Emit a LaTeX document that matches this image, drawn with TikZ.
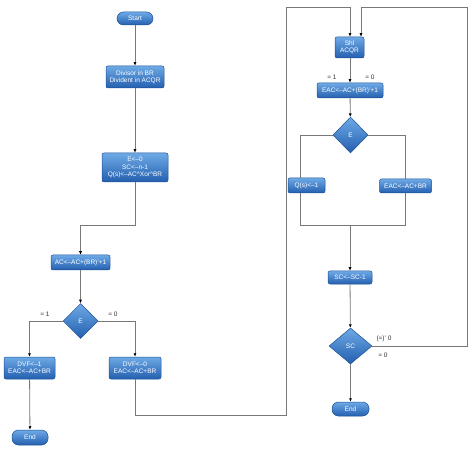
\documentclass[tikz,border=0pt]{standalone}
\usepackage{fontspec}
\setmainfont{Liberation Sans}
\usetikzlibrary{shapes.geometric,arrows.meta}
\definecolor{boxtop}{RGB}{110,170,230}
\definecolor{boxbot}{RGB}{35,95,175}
\definecolor{boxedge}{RGB}{30,80,150}
\definecolor{linegray}{RGB}{120,120,120}
\tikzset{
  blk/.style={draw=boxedge, line width=0.5pt, top color=boxtop, bottom color=boxbot,
    text=white, font=\fontsize{6.5}{7.2}\selectfont, align=center, inner sep=1pt,
    rounded corners=2pt},
  term/.style={blk, rounded corners=6.5pt},
  dec/.style={diamond, draw=boxedge, line width=0.5pt, top color=boxtop, bottom color=boxbot,
    text=white, font=\fontsize{6.5}{7.2}\selectfont, inner sep=0pt},
  conn/.style={draw=linegray, line width=0.8pt},
  arr/.style={conn, -{Latex[length=3.5pt,width=3pt,color=black]}},
  lbl/.style={font=\fontsize{6.5}{7.2}\selectfont, text=black!80, inner sep=0pt}
}
\begin{document}
\begin{tikzpicture}[x=1pt,y=-1pt]
\useasboundingbox (0,0) rectangle (474,449);
% left column
\node[term, minimum width=36pt, minimum height=13pt] (start) at (135,18.5) {Start};
\node[blk, minimum width=58pt, minimum height=22pt] (b1) at (135,77) {Divisor in BR\\Divident in ACQR};
\node[blk, minimum width=66pt, minimum height=29pt] (b2) at (135,167.5) {E<--0\\SC<--n-1\\Q(s)<--AC\^{}Xor\^{}BR};
\node[blk, minimum width=59pt, minimum height=15pt] (b3) at (80.5,262.5) {AC<--AC+(BR)'+1};
\node[dec, minimum width=35pt, minimum height=35pt] (d1) at (80.5,321) {E};
\node[blk, minimum width=51pt, minimum height=22pt] (b4) at (29.5,368) {DVF<--1\\EAC<--AC+BR};
\node[blk, minimum width=52pt, minimum height=22pt] (b5) at (135,368) {DVF<--0\\EAC<--AC+BR};
\node[term, minimum width=36pt, minimum height=15pt] (end1) at (30,437.5) {End};
% right column
\node[blk, minimum width=29pt, minimum height=21pt] (shl) at (349.5,47.5) {Shl\\ACQR};
\node[blk, minimum width=66pt, minimum height=15pt] (b6) at (350,90.5) {EAC<--AC+(BR)'+1};
\node[dec, minimum width=35pt, minimum height=36pt] (d2) at (350.5,135) {E};
\node[blk, minimum width=37pt, minimum height=15pt] (q) at (306.5,185.5) {Q(s)<--1};
\node[blk, minimum width=52pt, minimum height=14pt] (b7) at (405.5,186) {EAC<--AC+BR};
\node[blk, minimum width=44pt, minimum height=13pt] (b8) at (350,277.5) {SC<--SC-1};
\node[dec, minimum width=43pt, minimum height=36pt] (d3) at (350.5,346) {SC};
\node[term, minimum width=37pt, minimum height=14pt] (end2) at (350.5,409) {End};
% bend coordinates
\coordinate (c1) at (135,225);
\coordinate (c2) at (80.5,225);
\coordinate (c3) at (135,415);
\coordinate (c4) at (286,415);
\coordinate (c5) at (286,7);
\coordinate (c6) at (350,7);
\coordinate (c7) at (467,346);
\coordinate (c8) at (467,7);
\coordinate (c9) at (361,7);
\coordinate (qb) at (300,225);
\coordinate (eb) at (405.5,225);
\coordinate (mj) at (350,225);
% connectors left
\draw[arr] (start) -- (b1);
\draw[arr] (b1) -- (b2);
\draw[arr] (b2.south) -- (c1) -- (c2) -- (b3.north);
\draw[arr] (b3) -- (d1);
\draw[arr] (d1.west) -| (b4.north);
\draw[arr] (d1.east) -| (b5.north);
\draw[arr] (b4) -- (end1);
\draw[arr] (b5.south) -- (c3) -- (c4) -- (c5) -- (c6) -- (c6 |- shl.north);
% connectors right
\draw[arr] (d3.east) -- (c7) -- (c8) -- (c9) -- (c9 |- shl.north);
\draw[arr] (shl.south -| b6.north) -- (b6.north);
\draw[arr] (b6) -- (d2);
\draw[conn] (d2.west) -| (qb |- q.north);
\draw[conn] (d2.east) -| (b7.north);
\draw[conn] (qb |- q.south) -- (qb) -- (eb) -- (b7.south);
\draw[arr] (mj) -- (b8.north);
\draw[arr] (b8) -- (d3);
\draw[arr] (d3) -- (end2);
% labels
\node[lbl] (l1) at (45,314) {= 1};
\node[lbl] (l2) at (113,314) {= 0};
\node[lbl] (l3) at (332,77) {= 1};
\node[lbl] (l4) at (370,77) {= 0};
\node[lbl] (l5) at (384,339) {(=)' 0};
\node[lbl] (l6) at (383,355) {= 0};
\end{tikzpicture}
\end{document}
